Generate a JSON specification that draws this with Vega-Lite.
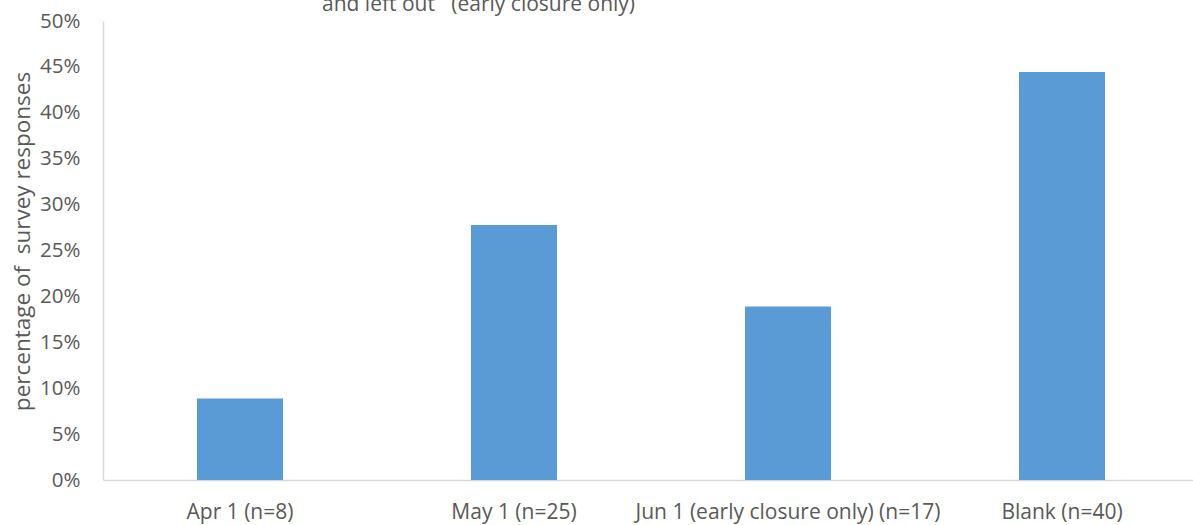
{
  "$schema": "https://vega.github.io/schema/vega-lite/v6.json",
  "autosize": "none",
  "width": 1096,
  "height": 459,
  "padding": {"left": 103, "top": 21, "right": 0, "bottom": 45},
  "background": "white",
  "title": {
    "text": "and left out\u00a0\u00a0\u00a0(early closure only)",
    "anchor": "start",
    "frame": "group",
    "dx": 219,
    "baseline": "alphabetic",
    "offset": -21,
    "fontSize": 21,
    "font": "Open Sans",
    "fontWeight": "normal",
    "color": "#595959"
  },
  "data": {
    "values": [
      {"label": "Apr 1 (n=8)", "pct": 0.0889},
      {"label": "May 1 (n=25)", "pct": 0.2778},
      {"label": "Jun 1 (early closure only) (n=17)", "pct": 0.1889},
      {"label": "Blank (n=40)", "pct": 0.4444}
    ]
  },
  "mark": {"type": "bar", "color": "#5B9BD5"},
  "encoding": {
    "x": {
      "field": "label",
      "type": "nominal",
      "sort": null,
      "scale": {"paddingInner": 0.686, "paddingOuter": 0.343},
      "axis": {
        "title": null,
        "labelAngle": 0,
        "labelLimit": 0,
        "labelFont": "Open Sans",
        "labelFontSize": 21,
        "labelColor": "#595959",
        "labelPadding": 21,
        "ticks": false,
        "tickSize": 0,
        "domainColor": "#d9d9d9",
        "domainWidth": 1.5,
        "grid": false
      }
    },
    "y": {
      "field": "pct",
      "type": "quantitative",
      "scale": {"domain": [0, 0.5], "nice": false},
      "axis": {
        "title": "percentage of \u00a0survey responses",
        "titleFont": "Open Sans",
        "titleFontSize": 22.5,
        "titleFontWeight": "normal",
        "titleColor": "#595959",
        "titleAngle": -90,
        "titleAlign": "center",
        "titleBaseline": "middle",
        "titleX": -81,
        "titleY": 220,
        "values": [0, 0.05, 0.1, 0.15, 0.2, 0.25, 0.3, 0.35, 0.4, 0.45, 0.5],
        "format": ".0%",
        "labelFont": "Open Sans",
        "labelFontSize": 20.5,
        "labelColor": "#595959",
        "labelPadding": 23,
        "ticks": false,
        "tickSize": 0,
        "domainColor": "#d9d9d9",
        "domainWidth": 1.5,
        "grid": false
      }
    }
  },
  "config": {"view": {"stroke": null}}
}
